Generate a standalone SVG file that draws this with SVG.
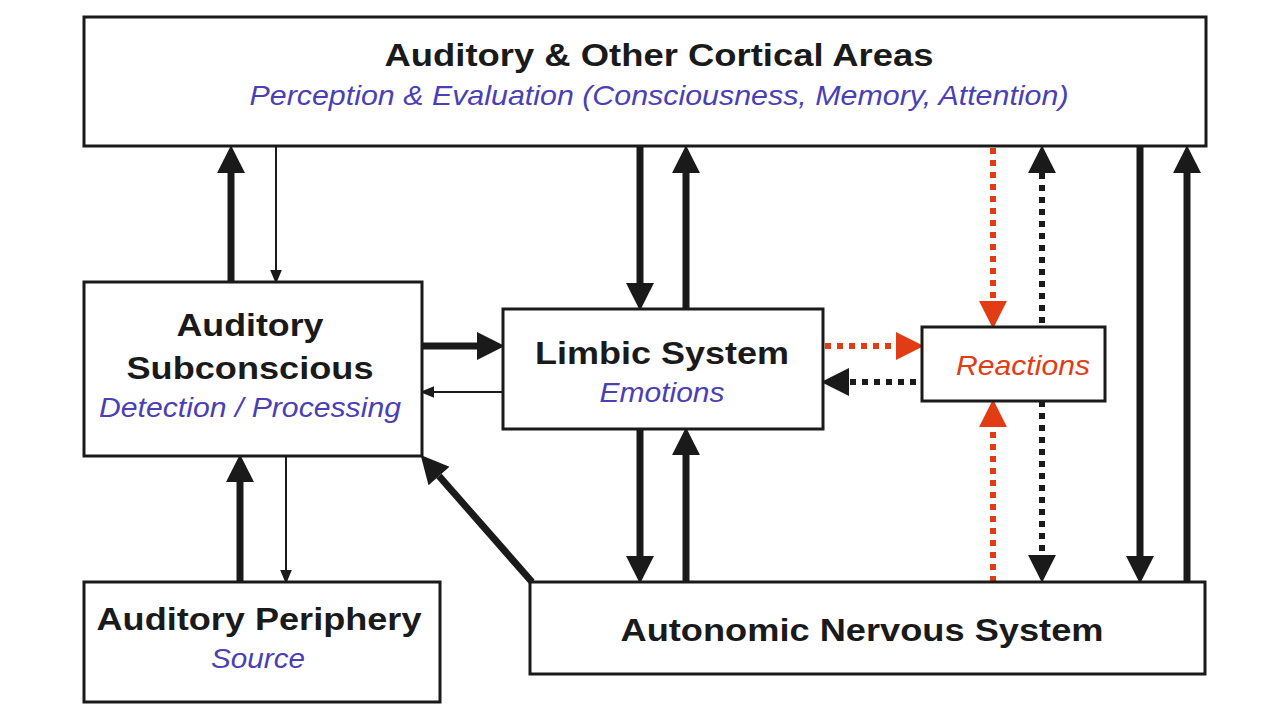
<svg xmlns="http://www.w3.org/2000/svg" width="1280" height="720" viewBox="0 0 1280 720">
<style>
.box{fill:#fff;stroke:#1a1a1a;stroke-width:3}
.t{font-family:"Liberation Sans",Arial,sans-serif;font-weight:bold;font-size:32px;fill:#1a1a1a;text-anchor:middle}
.s{font-family:"Liberation Sans",Arial,sans-serif;font-style:italic;font-size:28px;fill:#4b3fb5;text-anchor:middle}
.k{stroke:#1a1a1a;stroke-width:7;fill:none}
.n{stroke:#1a1a1a;stroke-width:2;fill:none}
.dk{stroke:#1a1a1a;stroke-width:6;stroke-dasharray:6 6;fill:none}
.dr{stroke:#e23c14;stroke-width:6;stroke-dasharray:6 6;fill:none}
</style>
<defs>
<marker id="hk" markerUnits="userSpaceOnUse" markerWidth="30" markerHeight="30" viewBox="0 -14 26 28" refX="0" refY="0" orient="auto-start-reverse"><path d="M0,-13 L26,0 L0,13 z" fill="#1a1a1a"/></marker>
<marker id="hr" markerUnits="userSpaceOnUse" markerWidth="30" markerHeight="30" viewBox="0 -14 26 28" refX="0" refY="0" orient="auto"><path d="M0,-13 L26,0 L0,13 z" fill="#e23c14"/></marker>
<marker id="hn" markerUnits="userSpaceOnUse" markerWidth="14" markerHeight="14" viewBox="0 -6 12 12" refX="0" refY="0" orient="auto"><path d="M0,-5 L12,0 L0,5 z" fill="#1a1a1a"/></marker>
</defs>
<rect width="1280" height="720" fill="#fff"/>
<g id="connectors">
<line class="dk" x1="1042" y1="173" x2="1042" y2="555" marker-start="url(#hk)" marker-end="url(#hk)"/>
<line class="k" x1="231" y1="282" x2="231" y2="173" marker-end="url(#hk)"/>
<line class="n" x1="276" y1="146" x2="276" y2="270" marker-end="url(#hn)"/>
<line class="k" x1="640" y1="146" x2="640" y2="283" marker-end="url(#hk)"/>
<line class="k" x1="686" y1="309" x2="686" y2="173" marker-end="url(#hk)"/>
<line class="dr" x1="993" y1="148" x2="993" y2="301" marker-end="url(#hr)"/>
<line class="k" x1="1140" y1="146" x2="1140" y2="556" marker-end="url(#hk)"/>
<line class="k" x1="1187" y1="582" x2="1187" y2="173" marker-end="url(#hk)"/>
<line class="k" x1="422" y1="346" x2="477" y2="346" marker-end="url(#hk)"/>
<line class="n" x1="503" y1="392" x2="434" y2="392" marker-end="url(#hn)"/>
<line class="dr" x1="825" y1="346" x2="896" y2="346" marker-end="url(#hr)"/>
<line class="dk" x1="916" y1="382" x2="849" y2="382" marker-end="url(#hk)"/>
<line class="k" x1="640" y1="429" x2="640" y2="556" marker-end="url(#hk)"/>
<line class="k" x1="686" y1="582" x2="686" y2="455" marker-end="url(#hk)"/>
<line class="dr" x1="993" y1="582" x2="993" y2="427" marker-end="url(#hr)"/>
<line class="k" x1="240" y1="582" x2="240" y2="482" marker-end="url(#hk)"/>
<line class="n" x1="286" y1="456" x2="286" y2="570" marker-end="url(#hn)"/>
<line class="k" x1="532" y1="582" x2="439" y2="476" marker-end="url(#hk)"/>
</g>
<g id="cortical"><rect class="box" x="84" y="17" width="1122" height="129"/>
<text class="t" x="659" y="66" textLength="549" lengthAdjust="spacingAndGlyphs">Auditory &amp; Other Cortical Areas</text>
<text class="s" x="659" y="105" textLength="819" lengthAdjust="spacingAndGlyphs">Perception &amp; Evaluation (Consciousness, Memory, Attention)</text></g>
<g id="subconscious"><rect class="box" x="84" y="282" width="338" height="174"/>
<text class="t" x="250" y="336" textLength="147" lengthAdjust="spacingAndGlyphs">Auditory</text>
<text class="t" x="250" y="379" textLength="247" lengthAdjust="spacingAndGlyphs">Subconscious</text>
<text class="s" x="250" y="417" textLength="302" lengthAdjust="spacingAndGlyphs">Detection / Processing</text></g>
<g id="limbic"><rect class="box" x="503" y="309" width="320" height="120"/>
<text class="t" x="662" y="364" textLength="254" lengthAdjust="spacingAndGlyphs">Limbic System</text>
<text class="s" x="662" y="402" textLength="125" lengthAdjust="spacingAndGlyphs">Emotions</text></g>
<g id="reactions"><rect class="box" x="922" y="327" width="183" height="74"/>
<text class="s" x="1023" y="375" style="fill:#e23c14" textLength="134" lengthAdjust="spacingAndGlyphs">Reactions</text></g>
<g id="periphery"><rect class="box" x="84" y="582" width="356" height="120"/>
<text class="t" x="259" y="630" textLength="325" lengthAdjust="spacingAndGlyphs">Auditory Periphery</text>
<text class="s" x="258" y="668" textLength="94" lengthAdjust="spacingAndGlyphs">Source</text></g>
<g id="ans"><rect class="box" x="530" y="582" width="675" height="92"/>
<text class="t" x="862" y="641" textLength="483" lengthAdjust="spacingAndGlyphs">Autonomic Nervous System</text></g>
</svg>
